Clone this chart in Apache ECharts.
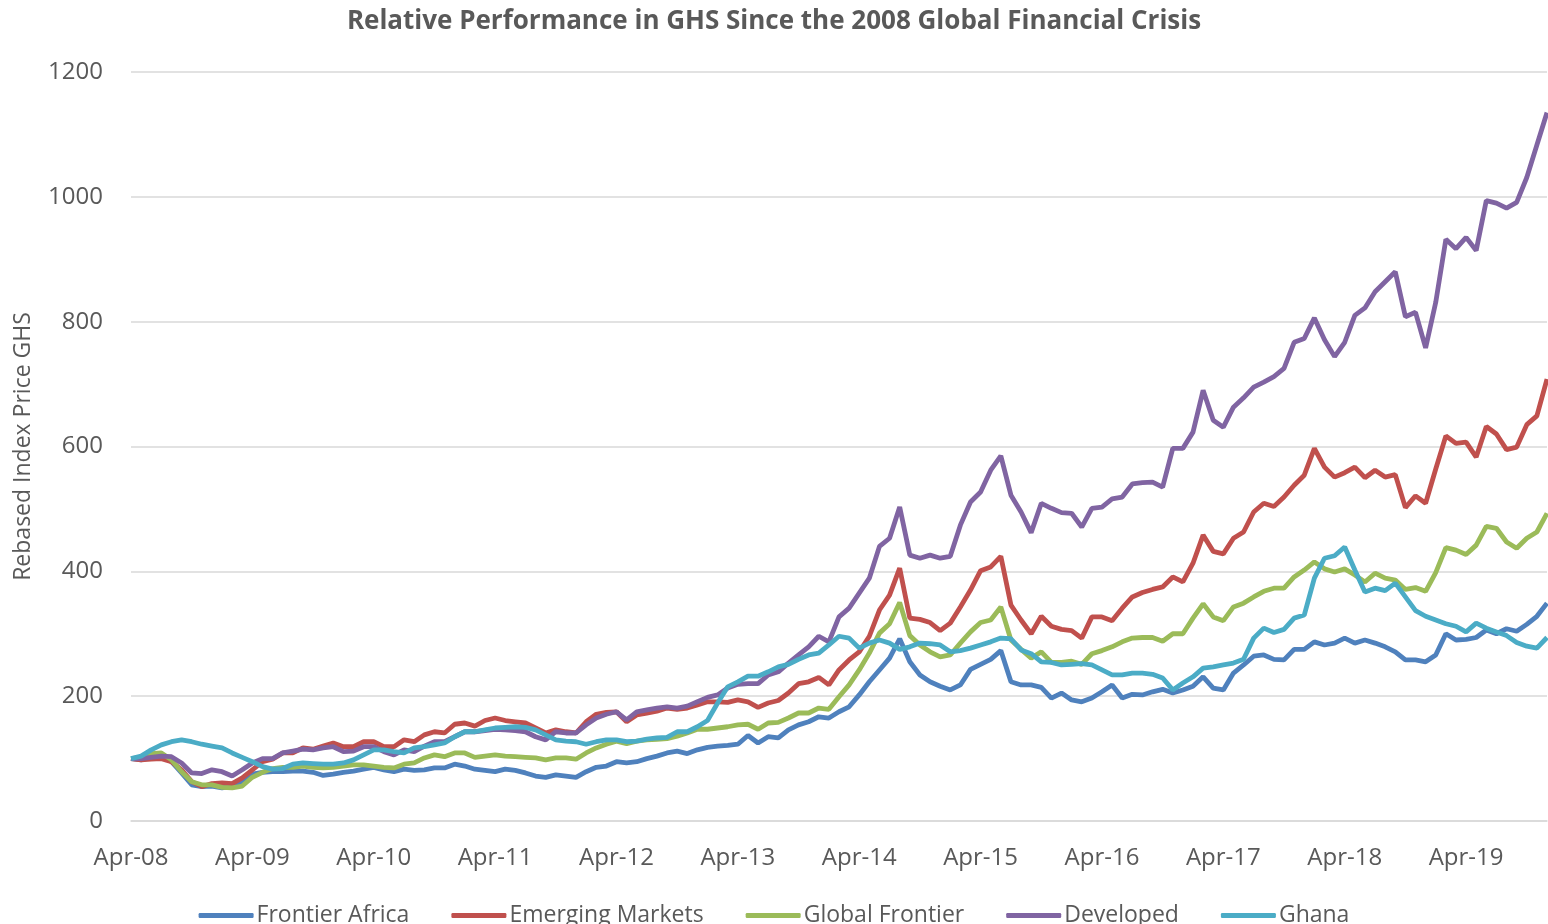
<!DOCTYPE html>
<html>
<head>
<meta charset="utf-8">
<script src="https://cdn.jsdelivr.net/npm/echarts@6/dist/echarts.min.js"></script>
<style>
    html, body { margin: 0; padding: 0; background: #fff; }
    #chart { width: 1548px; height: 924px; }
</style>
</head>
<body>
<div id="chart"></div>
<script>
// monthly points, Apr-08 .. Dec-19
var monthNames = ["Jan", "Feb", "Mar", "Apr", "May", "Jun", "Jul", "Aug", "Sep", "Oct", "Nov", "Dec"];
var months = [];
for (var k = 0; k < 141; k++) {
    var m = (3 + k) % 12;
    var yr = 8 + Math.floor((3 + k) / 12);
    months.push(monthNames[m] + "-" + (yr < 10 ? "0" + yr : yr));
}

var frontierAfrica = [
    100, 98, 103, 104, 95, 77, 58, 55, 56, 53, 56, 62,
    75, 78, 79, 79, 80, 80, 78, 73, 75, 78, 80, 83,
    86, 82, 79, 83, 81, 82, 85, 85, 91, 88, 83, 81,
    79, 83, 81, 77, 72, 70, 74, 72, 70, 79, 86, 88,
    95, 93, 95, 100, 104, 109, 112, 108, 114, 118, 120, 121,
    123, 137, 125, 135, 133, 146, 154, 159, 167, 165, 175, 183,
    202, 223, 242, 261, 292, 255, 234, 223, 216, 210, 218, 243,
    251, 259, 273, 223, 218, 218, 214, 197, 205, 194, 191, 197,
    207, 218, 197, 203, 202, 207, 211, 205, 210, 216, 231, 213,
    210, 237, 250, 264, 266, 259, 258, 275, 275, 287, 282, 285,
    293, 285, 290, 285, 279, 271, 258, 258, 255, 266, 300, 290,
    291, 294, 306, 300, 308, 304, 315, 328, 349
];

var emergingMarkets = [
    100, 98, 99, 100, 95, 82, 63, 55, 60, 61, 60, 69,
    82, 95, 99, 109, 109, 117, 115, 120, 125, 119, 119, 127,
    127, 119, 119, 130, 127, 138, 143, 141, 155, 157, 152, 161,
    165, 161, 159, 157, 149, 141, 146, 143, 141, 159, 171, 174,
    175, 159, 170, 173, 176, 181, 179, 181, 186, 191, 191, 190,
    194, 191, 182, 189, 193, 205, 220, 223, 230, 218, 242, 258,
    271, 296, 338, 362, 405, 325, 323, 318, 305, 317, 343, 370,
    401, 407, 424, 346, 322, 300, 328, 312, 307, 305, 293, 327,
    327, 321, 341, 359, 366, 371, 375, 391, 383, 413, 458, 432,
    428, 453, 463, 495, 509, 504, 519, 538, 554, 597, 567, 551,
    558, 567, 550, 562, 551, 555, 502, 521, 509, 564, 617, 605,
    607, 583, 632, 620, 595, 599, 635, 649, 708
];

var globalFrontier = [
    100, 102, 108, 109, 98, 79, 63, 58, 58, 54, 53, 56,
    70, 78, 84, 86, 86, 88, 86, 85, 86, 88, 90, 90,
    88, 86, 85, 91, 93, 101, 106, 103, 109, 109, 102, 104,
    106, 104, 103, 102, 101, 98, 101, 101, 99, 109, 117, 123,
    128, 124, 128, 130, 131, 132, 136, 141, 147, 147, 149, 151,
    154, 155, 147, 157, 158, 165, 173, 173, 181, 179, 199, 218,
    242, 269, 301, 316, 350, 297, 282, 271, 263, 266, 285, 303,
    318, 322, 343, 290, 275, 261, 271, 254, 254, 256, 251, 268,
    273, 279, 287, 293, 294, 294, 288, 300, 300, 325, 348, 327,
    321, 343, 349, 359, 368, 373, 373, 391, 402, 415, 404, 399,
    404, 394, 383, 397, 389, 386, 371, 374, 368, 398, 438, 434,
    427, 442, 472, 469, 447, 437, 453, 463, 493
];

var developed = [
    100, 100, 102, 104, 103, 93, 77, 76, 82, 79, 72, 82,
    93, 100, 100, 109, 112, 115, 114, 117, 119, 111, 112, 119,
    119, 111, 106, 114, 111, 120, 127, 127, 135, 143, 143, 145,
    147, 146, 145, 143, 135, 130, 143, 141, 141, 154, 165, 171,
    175, 162, 175, 178, 181, 183, 181, 184, 191, 198, 202, 213,
    219, 220, 220, 234, 239, 253, 266, 279, 296, 287, 327, 341,
    365, 389, 440, 453, 503, 426, 421, 426, 421, 424, 474, 511,
    527, 562, 585, 522, 495, 462, 509, 501, 494, 493, 471, 501,
    503, 516, 519, 540, 542, 543, 535, 597, 597, 623, 690, 642,
    631, 663, 678, 695, 703, 712, 725, 767, 773, 806, 771, 744,
    767, 810, 822, 848, 864, 880, 808, 815, 758, 831, 932, 917,
    935, 914, 994, 990, 982, 991, 1031, 1083, 1135
];

var ghana = [
    100, 104, 114, 122, 127, 130, 127, 123, 120, 117, 109, 102,
    95, 87, 83, 84, 91, 93, 92, 91, 91, 93, 98, 106,
    114, 114, 111, 109, 117, 119, 122, 125, 135, 143, 143, 146,
    149, 150, 151, 150, 146, 138, 130, 128, 127, 123, 127, 130,
    130, 127, 128, 131, 133, 134, 143, 143, 151, 161, 189, 215,
    223, 232, 232, 239, 247, 251, 259, 266, 269, 282, 296, 293,
    277, 285, 290, 285, 275, 279, 285, 284, 282, 271, 273, 277,
    282, 287, 293, 292, 274, 268, 255, 254, 250, 251, 252, 250,
    242, 234, 234, 237, 237, 235, 229, 210, 221, 231, 245, 247,
    250, 253, 259, 293, 309, 302, 307, 325, 330, 389, 421, 425,
    439, 402, 367, 373, 369, 381, 359, 337, 328, 322, 316, 312,
    303, 317, 309, 303, 297, 286, 280, 277, 294
];

var yTicks = { min: 0, max: 1200, interval: 200 };

var seriesNames = ["Frontier Africa", "Emerging Markets", "Global Frontier", "Developed", "Ghana"];
var seriesData = [frontierAfrica, emergingMarkets, globalFrontier, developed, ghana];
var colors = ["#4f81bd", "#c0504d", "#9bbb59", "#8064a2", "#4bacc6"];

var font = "'Open Sans', 'DejaVu Sans', sans-serif";

var chart = echarts.init(document.getElementById("chart"));

var option = {
    animation: false,
    color: colors,
    title: {
        text: "Relative Performance in GHS Since the 2008 Global Financial Crisis",
        left: "center",
        top: 4,
        textStyle: {
            color: "#595959",
            fontSize: 26,
            fontWeight: "bold",
            fontFamily: font
        }
    },
    legend: {
        bottom: -8,
        left: "center",
        itemWidth: 55,
        itemHeight: 5,
        itemGap: 42,
        icon: "roundRect",
        textStyle: {
            color: "#595959",
            fontSize: 23,
            fontFamily: font,
            padding: [0, 0, 0, -2]
        },
        data: seriesNames
    },
    grid: {
        left: 131,
        right: 1,
        top: 72,
        bottom: 103
    },
    xAxis: {
        type: "category",
        boundaryGap: false,
        data: months,
        axisLine: { lineStyle: { color: "#d9d9d9", width: 1.5 } },
        axisTick: { show: false },
        axisLabel: {
            interval: 11,
            color: "#595959",
            fontSize: 24,
            fontFamily: font,
            margin: 25
        }
    },
    yAxis: {
        type: "value",
        min: yTicks.min,
        max: yTicks.max,
        interval: yTicks.interval,
        name: "Rebased Index Price GHS",
        nameLocation: "middle",
        nameGap: 96,
        nameTextStyle: {
            color: "#595959",
            fontSize: 23,
            fontFamily: font
        },
        axisLine: { show: false },
        axisTick: { show: false },
        axisLabel: {
            color: "#595959",
            fontSize: 24,
            fontFamily: font,
            margin: 28,
            formatter: function (v) { return String(v); }
        },
        splitLine: { lineStyle: { color: "#d9d9d9", width: 1.5 } }
    },
    series: seriesNames.map(function (name, i) {
        return {
            name: name,
            type: "line",
            data: seriesData[i],
            symbol: "none",
            lineStyle: { width: 4.8, color: colors[i] },
            itemStyle: { color: colors[i] }
        };
    })
};

chart.setOption(option);
</script>
</body>
</html>
